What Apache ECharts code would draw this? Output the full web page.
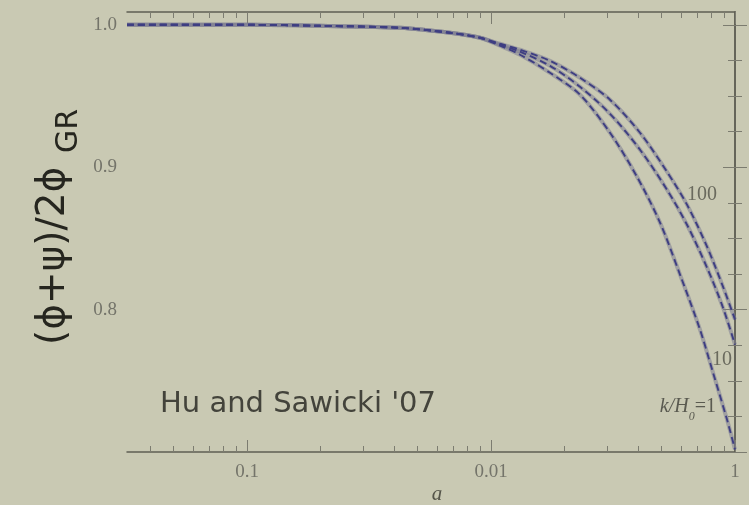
<!DOCTYPE html>
<html><head><meta charset="utf-8">
<script src="https://cdn.jsdelivr.net/npm/echarts@6/dist/echarts.min.js"></script>
<style>html,body{margin:0;padding:0;background:#c9c9b3;}#c{width:749px;height:505px;}</style>
</head><body><div id="c"></div>
<script>
// ---- data (a = scale factor, phi = (phi+psi)/2phi_GR) ----
const prefixA   = [0.003222, 0.01029, 0.01991, 0.04236, 0.06792, 0.09015];
const prefixPhi = [1.0, 1.0, 0.9993, 0.9979, 0.9944, 0.9909];

const aK100   = [0.1089, 0.1315, 0.1745, 0.2316, 0.3074, 0.4080, 0.5264, 0.6356, 0.7680, 0.8929, 1.0];
const phiK100 = [0.9867, 0.9825, 0.9747, 0.9628, 0.9474, 0.9242, 0.8968, 0.8737, 0.8442, 0.8161, 0.7930];

const aK10    = [0.1089, 0.1315, 0.1745, 0.2316, 0.3074, 0.4080, 0.5264, 0.6356, 0.7680, 0.8929, 1.0];
const phiK10  = [0.9860, 0.9811, 0.9712, 0.9565, 0.9375, 0.9123, 0.8842, 0.8596, 0.8295, 0.8014, 0.7754];

const aK1     = [0.1089, 0.1315, 0.1745, 0.2316, 0.3074, 0.3966, 0.4928, 0.5951, 0.7186, 0.8125, 0.9273, 1.0];
const phiK1   = [0.9853, 0.9790, 0.9663, 0.9509, 0.9242, 0.8933, 0.8611, 0.8246, 0.7860, 0.7558, 0.7228, 0.7018];

const xTickA      = [0.01, 0.1, 1];
const xTickLabels = ['0.1', '0.01', '1'];
const yTickValues = [0.7, 0.8, 0.9, 1.0];
const yLabelValues = [0.8, 0.9, 1.0];
const yMinorValues = [0.725, 0.75, 0.775, 0.825, 0.85, 0.875, 0.925, 0.95, 0.975];
const xMin = 0.003222, xMax = 1, yMin = 0.7, yMax = 1.009;
const curveLabels = ['100', '10'];

// ---- build ----
const L = Math.log10;
const xMajor = xTickA.map(L);
const xMinor = [];
for (let e = -3; e <= -1; e++) {
  for (let k = 2; k <= 9; k++) {
    const v = k * Math.pow(10, e);
    if (v >= xMin && v <= xMax) xMinor.push(L(v));
  }
}
function pts(a, p) { return a.map((v, i) => [L(v), p[i]]); }
const curves = [
  pts(prefixA.concat(aK100), prefixPhi.concat(phiK100)),
  pts(prefixA.concat(aK10), prefixPhi.concat(phiK10)),
  pts(prefixA.concat(aK1), prefixPhi.concat(phiK1))
];

const frame = '#5f5f54', tickCol = '#7c7c70', labCol = '#74746a';
const serif = '"Liberation Serif", "DejaVu Serif", serif';

function xAx(pos, major, showLine, showLabel) {
  return {
    type: 'value', position: pos, min: L(xMin), max: L(xMax),
    axisLine: {show: showLine, lineStyle: {color: frame, width: 1.5}},
    axisTick: {show: true, inside: true, length: major ? 12 : 6,
      customValues: major ? xMajor : xMinor, lineStyle: {color: tickCol, width: 1}},
    axisLabel: {show: showLabel, customValues: xMajor, margin: 11, color: labCol,
      fontFamily: serif, fontSize: 19,
      formatter: (v) => { for (let i = 0; i < xMajor.length; i++) if (Math.abs(v - xMajor[i]) < 1e-6) return xTickLabels[i]; return ''; }},
    splitLine: {show: false}
  };
}
function yAx(pos, major, showLine, showLabel) {
  return {
    type: 'value', position: pos, min: yMin, max: yMax,
    axisLine: {show: showLine, lineStyle: {color: frame, width: 1.5}},
    axisTick: {show: true, inside: true, length: major ? 12 : 7,
      customValues: major ? yTickValues : yMinorValues, lineStyle: {color: tickCol, width: 1}},
    axisLabel: {show: showLabel, customValues: yLabelValues, margin: 10, color: labCol,
      fontFamily: serif, fontSize: 19, formatter: (v) => v.toFixed(1)},
    splitLine: {show: false}
  };
}

const series = [];
curves.forEach((d) => {
  series.push({type: 'line', data: d, xAxisIndex: 0, yAxisIndex: 0, showSymbol: false, smooth: 0.3,
    silent: true, z: 2, lineStyle: {color: 'rgba(125,125,145,0.55)', width: 4}});
  series.push({type: 'line', data: d, xAxisIndex: 0, yAxisIndex: 0, showSymbol: false, smooth: 0.3,
    silent: true, z: 3, lineStyle: {color: '#3e3e82', width: 1.9, type: [7, 4]}});
});

const chart = echarts.init(document.getElementById('c'), null, {renderer: 'canvas'});
chart.setOption({
  backgroundColor: '#c9c9b3',
  animation: false,
  grid: {left: 127, right: 14, top: 12, bottom: 53, containLabel: false},
  xAxis: [xAx('bottom', true, true, true), xAx('bottom', false, false, false),
          xAx('top', true, true, false), xAx('top', false, false, false)],
  yAxis: [yAx('left', true, true, true), yAx('left', false, false, false),
          yAx('right', true, true, false), yAx('right', false, false, false)],
  series: series,
  graphic: [
    {type: 'text', x: 73, y: 345, rotation: Math.PI / 2, silent: true,
     style: {text: '(ϕ+ψ)/2ϕ', font: '39px "DejaVu Sans", sans-serif', fill: '#26261f',
             textAlign: 'left', align: 'left', textVerticalAlign: 'bottom', verticalAlign: 'bottom'}},
    {type: 'text', x: 84, y: 153, rotation: Math.PI / 2, silent: true,
     style: {text: 'GR', font: '30px "DejaVu Sans", sans-serif', fill: '#26261f',
             textAlign: 'left', align: 'left', textVerticalAlign: 'bottom', verticalAlign: 'bottom'}},
    {type: 'text', x: 160, y: 404, silent: true,
     style: {text: "Hu and Sawicki '07", font: '29px "DejaVu Sans", sans-serif', fill: '#43433b',
             textAlign: 'left', align: 'left', textVerticalAlign: 'middle', verticalAlign: 'middle'}},
    {type: 'text', x: 437, y: 494, silent: true,
     style: {text: 'a', font: 'italic 21px ' + serif, fill: '#55554a',
             textAlign: 'center', align: 'center', textVerticalAlign: 'middle', verticalAlign: 'middle'}},
    {type: 'text', x: 702, y: 195, silent: true,
     style: {text: curveLabels[0], font: '20px ' + serif, fill: '#6a6a5e',
             textAlign: 'center', align: 'center', textVerticalAlign: 'middle', verticalAlign: 'middle'}},
    {type: 'text', x: 722, y: 360, silent: true,
     style: {text: curveLabels[1], font: '20px ' + serif, fill: '#6a6a5e',
             textAlign: 'center', align: 'center', textVerticalAlign: 'middle', verticalAlign: 'middle'}},
    {type: 'text', x: 716, y: 410, silent: true,
     style: {text: '{i|k/H}{s|0}{n|=1}', fill: '#5a5a50',
             textAlign: 'right', align: 'right', textVerticalAlign: 'middle', verticalAlign: 'middle',
             rich: {
               i: {fontFamily: serif, fontStyle: 'italic', fontSize: 20, color: '#5a5a50', lineHeight: 26, verticalAlign: 'top'},
               s: {fontFamily: serif, fontStyle: 'italic', fontSize: 12, color: '#5a5a50', lineHeight: 26, verticalAlign: 'bottom'},
               n: {fontFamily: serif, fontSize: 20, color: '#5a5a50', lineHeight: 26, verticalAlign: 'top'}
             }}}
  ]
});
</script></body></html>
